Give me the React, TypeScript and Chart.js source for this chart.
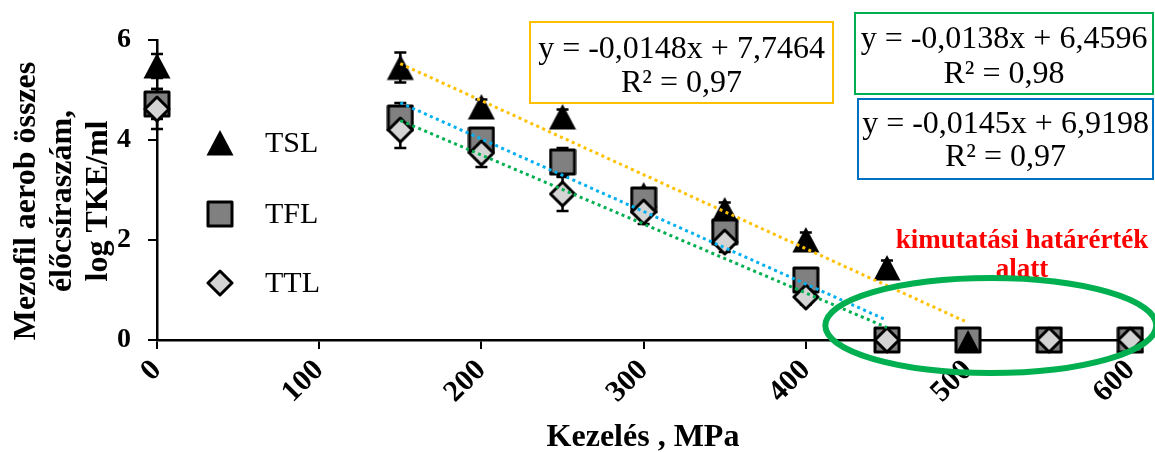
import React, { useEffect, useRef } from "react";
import { Chart, registerables } from "chart.js";

Chart.register(...registerables);

const SERIF = '"Liberation Serif", "Times New Roman", serif';

// ---- data ----
const pressures = [0, 150, 200, 250, 300, 350, 400, 450, 500, 550, 600];
const seriesNames = ["TSL", "TFL", "TTL"];
const tslValues: (number | null)[] = [5.48, 5.45, 4.66, 4.46, 2.9, 2.6, 2.0, 1.44, 0, 0, 0];
const tslErrors = [0.24, 0.3, 0.15, 0.15, 0.1, 0.15, 0.15, 0.15, 0, 0, 0];
const tflValues: (number | null)[] = [4.72, 4.44, 4.0, 3.56, 2.8, 2.16, 1.2, 0, 0, 0, 0];
const tflErrors = [0.3, 0.3, 0.2, 0.28, 0.15, 0.2, 0.15, 0, 0, 0, 0];
const ttlValues: (number | null)[] = [4.62, 4.2, 3.74, 2.92, 2.56, 1.96, 0.86, 0, null, 0, 0];
const ttlErrors = [0.4, 0.36, 0.28, 0.34, 0.24, 0.2, 0.15, 0, 0, 0, 0];

const trendSlopes = [-0.0148, -0.0145, -0.0138];
const trendIntercepts = [7.7464, 6.9198, 6.4596];
const trendStarts = [150, 150, 150];
const trendEnds = [500, 450, 450];
const trendR2 = [0.97, 0.97, 0.98];

const xTickValues = [0, 100, 200, 300, 400, 500, 600];
const yTickValues = [0, 2, 4, 6];

const yTitleLines = ["Mezofil aerob összes", "élőcsíraszám,", "log TKE/ml"];
const xTitle = "Kezelés , MPa";
const noteLines = ["kimutatási határérték", "alatt"];

const seriesValues = [tslValues, tflValues, ttlValues];
const seriesErrors = [tslErrors, tflErrors, ttlErrors];
const trendColors = ["#FFC000", "#00B0F0", "#00B050"];
const boxColors = ["#FFC000", "#0070C0", "#00B050"];

function fmt(v: number): string {
  return String(v).replace(".", ",");
}

function makeMarker(kind: string): HTMLCanvasElement {
  const c = document.createElement("canvas");
  c.width = 28;
  c.height = 28;
  const g = c.getContext("2d")!;
  g.lineJoin = "round";
  if (kind === "triangle") {
    g.beginPath();
    g.moveTo(14, 1);
    g.lineTo(27.5, 26.5);
    g.lineTo(0.5, 26.5);
    g.closePath();
    g.fillStyle = "#000";
    g.fill();
  } else if (kind === "square" || kind === "squareTri") {
    g.beginPath();
    g.rect(2, 2, 24, 24);
    g.fillStyle = "#808080";
    g.fill();
    g.lineWidth = 3;
    g.strokeStyle = "#000";
    g.stroke();
    if (kind === "squareTri") {
      g.beginPath();
      g.moveTo(14, 4);
      g.lineTo(25, 25);
      g.lineTo(3, 25);
      g.closePath();
      g.fillStyle = "#000";
      g.fill();
    }
  } else {
    g.beginPath();
    g.moveTo(14, 2);
    g.lineTo(26, 14);
    g.lineTo(14, 26);
    g.lineTo(2, 14);
    g.closePath();
    g.fillStyle = "#d4d4d4";
    g.fill();
    g.lineWidth = 3;
    g.strokeStyle = "#000";
    g.stroke();
  }
  return c;
}

export default function App() {
  const ref = useRef<HTMLCanvasElement | null>(null);

  useEffect(() => {
    document.body.style.margin = "0";
    const canvas = ref.current;
    if (!canvas) return;

    const markers = {
      triangle: makeMarker("triangle"),
      square: makeMarker("square"),
      squareTri: makeMarker("squareTri"),
      diamond: makeMarker("diamond"),
    };
    const styles = [markers.triangle, markers.square, markers.diamond];

    const toPoints = (vals: (number | null)[]) =>
      pressures
        .map((x, i) => (vals[i] == null ? null : { x, y: vals[i] as number }))
        .filter((p) => p !== null) as { x: number; y: number }[];

    const pointSets: any[] = seriesNames.map((name, s) => ({
      type: "scatter",
      label: name,
      data: toPoints(seriesValues[s]),
      pointStyle:
        s === 1
          ? (c: any) => (c.raw && c.raw.x === 500 ? markers.squareTri : markers.square)
          : styles[s],
      pointRadius: 14,
      showLine: false,
      order: 3 - s,
      clip: false,
    }));

    const trendSets: any[] = trendSlopes.map((m, k) => ({
      type: "line",
      label: seriesNames[k] + " trend",
      data: [trendStarts[k], trendEnds[k]].map((x) => ({ x, y: m * x + trendIntercepts[k] })),
      borderColor: trendColors[k],
      borderWidth: 3,
      borderDash: [3, 3.5],
      pointRadius: 0,
      fill: false,
      order: 0,
      clip: false,
    }));

    const errorBars = {
      id: "errorBars",
      beforeDatasetsDraw(chart: any) {
        const { ctx, scales } = chart;
        const xs = scales.x;
        const ys = scales.y;
        ctx.save();
        ctx.strokeStyle = "#000";
        ctx.lineWidth = 2.5;
        seriesValues.forEach((vals, s) => {
          const errs = seriesErrors[s];
          pressures.forEach((p, i) => {
            const v = vals[i];
            const e = errs[i];
            if (v == null || !e) return;
            const px = xs.getPixelForValue(p);
            const top = ys.getPixelForValue(v + e);
            const bot = ys.getPixelForValue(v - e);
            ctx.beginPath();
            ctx.moveTo(px, top);
            ctx.lineTo(px, bot);
            ctx.moveTo(px - 6, top);
            ctx.lineTo(px + 6, top);
            ctx.moveTo(px - 6, bot);
            ctx.lineTo(px + 6, bot);
            ctx.stroke();
          });
        });
        ctx.restore();
      },
    };

    const annotations = {
      id: "annotations",
      afterDraw(chart: any) {
        const { ctx, scales } = chart;
        const xs = scales.x;
        const ys = scales.y;
        ctx.save();

        // Y axis title
        ctx.fillStyle = "#000";
        ctx.font = `bold 32px ${SERIF}`;
        ctx.textAlign = "center";
        ctx.textBaseline = "alphabetic";
        const baselines = [35, 71, 107];
        yTitleLines.forEach((line, i) => {
          ctx.save();
          ctx.translate(baselines[i], 201);
          ctx.rotate(-Math.PI / 2);
          ctx.fillText(line, 0, 0);
          ctx.restore();
        });

        // X axis title
        ctx.font = `bold 32px ${SERIF}`;
        ctx.fillText(xTitle, 643, 446);

        // Legend
        const legendY = [143, 214, 283];
        styles.forEach((img, i) => {
          ctx.drawImage(img, 220 - 14, legendY[i] - 14);
        });
        ctx.font = `30px ${SERIF}`;
        ctx.textAlign = "left";
        ctx.textBaseline = "middle";
        seriesNames.forEach((n, i) => ctx.fillText(n, 265, legendY[i] + 1));

        // Equation boxes: [orange TSL, blue TFL, green TTL]
        const boxes = [
          { k: 0, l: 530, t: 22, r: 833, b: 103, y1: 50, y2: 84 },
          { k: 1, l: 858, t: 99, r: 1153, b: 179, y1: 125, y2: 158 },
          { k: 2, l: 855, t: 13, r: 1153, b: 94, y1: 40, y2: 75 },
        ];
        boxes.forEach((bx) => {
          ctx.strokeStyle = boxColors[bx.k];
          ctx.lineWidth = 2;
          ctx.strokeRect(bx.l, bx.t, bx.r - bx.l, bx.b - bx.t);
          ctx.fillStyle = "#000";
          ctx.font = `32px ${SERIF}`;
          ctx.textAlign = "center";
          ctx.textBaseline = "middle";
          const cx = (bx.l + bx.r) / 2;
          const eq = `y = ${fmt(trendSlopes[bx.k])}x + ${fmt(trendIntercepts[bx.k])}`;
          ctx.fillText(eq, cx, bx.y1);
          ctx.fillText(`R² = ${fmt(trendR2[bx.k])}`, cx, bx.y2);
        });

        // Red note
        ctx.fillStyle = "#FF0000";
        ctx.font = `bold 27px ${SERIF}`;
        ctx.textAlign = "center";
        ctx.textBaseline = "alphabetic";
        ctx.fillText(noteLines[0], 1022, 248);
        ctx.fillText(noteLines[1], 1022, 277);

        // Green ellipse around below-detection points
        const ecx = xs.getPixelForValue(514);
        const ecy = ys.getPixelForValue(0.29);
        const erx = xs.getPixelForValue(514 + 102) - ecx;
        const ery = ys.getPixelForValue(0) - ys.getPixelForValue(0.95);
        ctx.strokeStyle = "#00B050";
        ctx.lineWidth = 6;
        ctx.beginPath();
        ctx.ellipse(ecx, ecy, erx, ery, 0, 0, Math.PI * 2);
        ctx.stroke();

        ctx.restore();
      },
    };

    const chart = new Chart(canvas, {
      type: "scatter",
      data: { datasets: [...pointSets, ...trendSets] },
      options: {
        responsive: false,
        animation: false,
        events: [],
        layout: { padding: { top: 40, right: 5, left: 2, bottom: 0 } },
        plugins: {
          legend: { display: false },
          tooltip: { enabled: false },
        },
        scales: {
          x: {
            type: "linear",
            min: 0,
            max: 606,
            afterFit: (scale: any) => {
              scale.height = 112;
              scale.paddingLeft = 0;
              scale.paddingRight = 0;
            },
            afterBuildTicks: (scale: any) => {
              scale.ticks = xTickValues.map((v) => ({ value: v }));
            },
            ticks: {
              minRotation: 45,
              maxRotation: 45,
              padding: 4,
              color: "#000",
              font: { family: SERIF, size: 30, weight: "bold" },
            },
            grid: {
              drawOnChartArea: false,
              drawTicks: true,
              tickLength: 9,
              color: "#000",
              lineWidth: 2,
            },
            border: { display: true, color: "#000", width: 2.5 },
          },
          y: {
            type: "linear",
            min: 0,
            max: 6,
            afterFit: (scale: any) => {
              scale.width = 155;
              scale.paddingTop = 0;
              scale.paddingBottom = 0;
            },
            afterBuildTicks: (scale: any) => {
              scale.ticks = yTickValues.map((v) => ({ value: v }));
            },
            ticks: {
              padding: 17,
              color: "#000",
              font: { family: SERIF, size: 28, weight: "bold" },
            },
            grid: {
              drawOnChartArea: false,
              drawTicks: true,
              tickLength: 9,
              color: "#000",
              lineWidth: 2,
            },
            border: { display: true, color: "#000", width: 2.5 },
          },
        },
      } as any,
      plugins: [errorBars, annotations],
    } as any);

    return () => chart.destroy();
  }, []);

  return (
    <div style={{ width: 1155, height: 452 }}>
      <canvas ref={ref} width={1155} height={452} style={{ display: "block" }} />
    </div>
  );
}
